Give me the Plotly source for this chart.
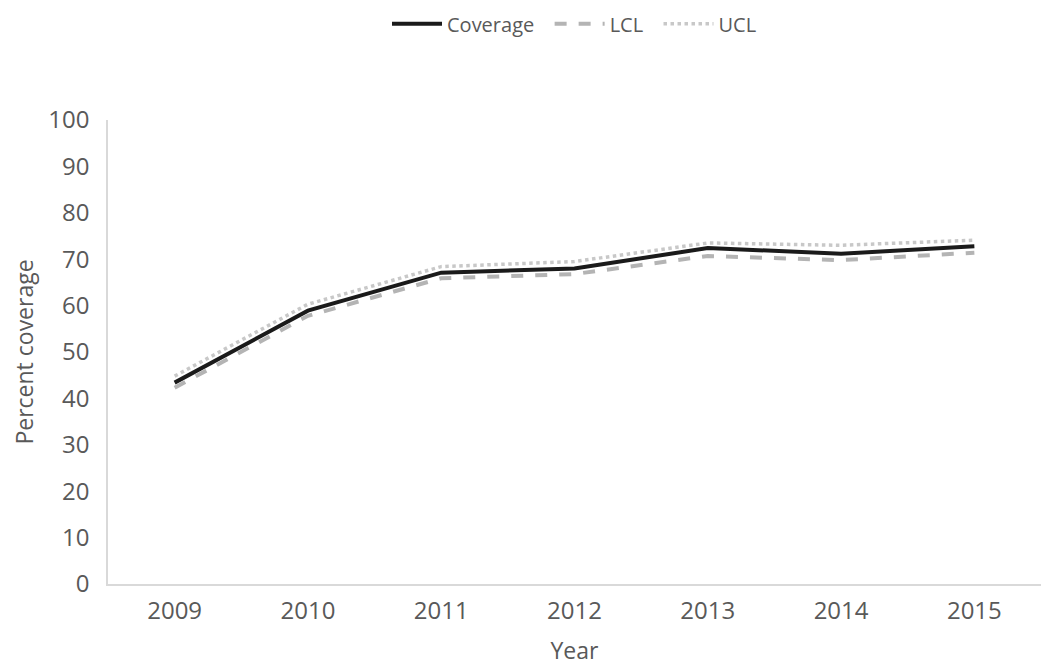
import plotly.graph_objects as go

years = ["2009", "2010", "2011", "2012", "2013", "2014", "2015"]
coverage = [43.4, 58.9, 67.1, 68.0, 72.4, 71.2, 72.8]
lcl = [42.3, 57.8, 65.9, 66.8, 70.7, 69.8, 71.4]
ucl = [44.8, 60.3, 68.4, 69.5, 73.5, 73.0, 74.1]

font_family = "Open Sans, Lato, sans-serif"
gray_text = "#595959"

fig = go.Figure()
fig.add_trace(go.Scatter(x=years, y=coverage, name="Coverage  ", mode="lines",
                         line=dict(color="#1a1a1a", width=4)))
fig.add_trace(go.Scatter(x=years, y=lcl, name="LCL  ", mode="lines",
                         line=dict(color="#b4b4b4", width=4, dash="dash")))
fig.add_trace(go.Scatter(x=years, y=ucl, name="UCL", mode="lines",
                         line=dict(color="#c8c8c8", width=3.5, dash="dot")))

fig.update_layout(
    width=1042, height=661,
    paper_bgcolor="white", plot_bgcolor="white",
    margin=dict(l=100, r=9, t=112, b=85, autoexpand=False),
    font=dict(family=font_family, color=gray_text),
    legend=dict(orientation="h", x=0.5, xanchor="center", y=0.976, yanchor="middle",
                yref="container", font=dict(size=20, color=gray_text),
                itemwidth=50),
    showlegend=True,
)
fig.update_xaxes(
    type="category", range=[-0.5, 6.5], showgrid=False, showline=True,
    linecolor="#d9d9d9", linewidth=1.5,
    ticks="", tickfont=dict(size=24, color=gray_text), ticklabelstandoff=4,
    title=dict(text="Year", font=dict(size=23, color=gray_text), standoff=18),
)
fig.update_yaxes(
    range=[0, 100], dtick=10, showgrid=False, showline=True, linecolor="#d9d9d9",
    linewidth=1.5, ticks="", zeroline=False, tickfont=dict(size=24, color=gray_text),
    ticklabelstandoff=12,
    title=dict(text="Percent coverage", font=dict(size=23, color=gray_text), standoff=24),
)

fig.write_html("out.html")
